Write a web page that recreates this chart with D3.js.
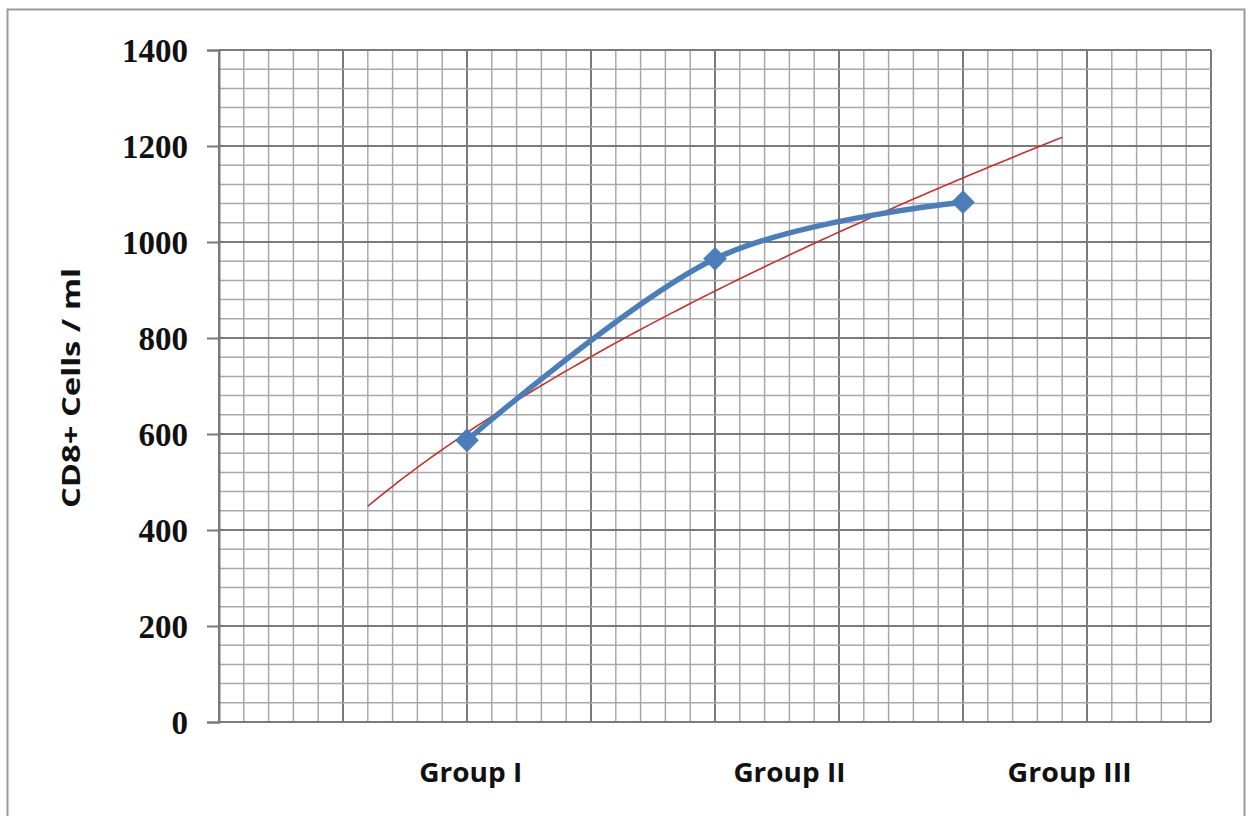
<!DOCTYPE html>
<html>
<head>
<meta charset="utf-8">
<script src="https://cdn.jsdelivr.net/npm/d3@7"></script>
<style>
  html, body { margin: 0; padding: 0; background: #fff; }
  svg { display: block; }
</style>
</head>
<body>
<svg id="chart" width="1251" height="816"></svg>
<script>
// ---- data ----
const categories = ["Group I", "Group II", "Group III"];
const groupX = [2, 4, 6];                 // x values of the points (scatter axis 0..8)
const cd8Values = [587, 965, 1083];       // CD8+ cells / ml
const categoryLabelAt = [2.03, 4.6, 6.86];// where the category captions sit (axis units)
const yTicks = [0, 200, 400, 600, 800, 1000, 1200, 1400];
const yTitle = "CD8+ Cells / ml";
const trendRange = [1.2, 6.8];            // power trendline, forecast 0.8 each side

// ---- layout ----
const svg = d3.select("#chart");
const L = 219, R = 1211, T = 50, B = 722;
const x = d3.scaleLinear().domain([0, 8]).range([L, R]);
const y = d3.scaleLinear().domain([0, 1400]).range([B, T]);

// outer frame
svg.append("rect").attr("x", 7.5).attr("y", 9.5).attr("width", 1237).attr("height", 830)
  .attr("fill", "none").attr("stroke", "#9a9a9a").attr("stroke-width", 2);

// grid
const g = svg.append("g");
const minorX = d3.range(0, 8.0001, 0.2);
const minorY = d3.range(0, 1400.001, 40);
g.selectAll(".vx").data(minorX).join("line")
  .attr("x1", d => x(d)).attr("x2", d => x(d)).attr("y1", T).attr("y2", B)
  .attr("stroke", d => Math.abs(d - Math.round(d)) < 1e-6 ? "#7a7a7a" : "#a8a8a8")
  .attr("stroke-width", d => Math.abs(d - Math.round(d)) < 1e-6 ? 2 : 1.5);
g.selectAll(".hy").data(minorY).join("line")
  .attr("x1", L).attr("x2", R).attr("y1", d => y(d)).attr("y2", d => y(d))
  .attr("stroke", d => d % 200 === 0 ? "#7a7a7a" : "#a8a8a8")
  .attr("stroke-width", d => d % 200 === 0 ? 2 : 1.5);

// y axis
const yAxis = d3.axisLeft(y).tickValues(yTicks).tickSize(12).tickPadding(19).tickFormat(d3.format("d"));
const ya = svg.append("g").attr("transform", `translate(${L},0)`).call(yAxis);
ya.select(".domain").attr("stroke", "#7a7a7a").attr("stroke-width", 2);
ya.selectAll(".tick line").attr("stroke", "#7a7a7a").attr("stroke-width", 2);
ya.selectAll(".tick text")
  .attr("font-family", "'Liberation Serif', 'Times New Roman', serif")
  .attr("font-weight", "bold").attr("font-size", 33).attr("fill", "#111")
  .attr("dy", "0.34em");

// bottom axis line
svg.append("line").attr("x1", L).attr("x2", R).attr("y1", B).attr("y2", B)
  .attr("stroke", "#7a7a7a").attr("stroke-width", 2);

// y title
svg.append("text")
  .attr("transform", `translate(80,388) rotate(-90)`)
  .attr("text-anchor", "middle")
  .attr("font-family", "'Open Sans', 'Liberation Sans', sans-serif")
  .attr("font-weight", "bold").attr("font-size", 25).attr("fill", "#111")
  .attr("textLength", 240).attr("lengthAdjust", "spacingAndGlyphs")
  .text(yTitle);

// category captions
const capW = [103, 112, 124];
svg.selectAll(".cat").data(categories).join("text")
  .attr("x", (d, i) => x(categoryLabelAt[i])).attr("y", 782)
  .attr("text-anchor", "middle")
  .attr("font-family", "'Open Sans', 'Liberation Sans', sans-serif")
  .attr("font-weight", "bold").attr("font-size", 27).attr("fill", "#111")
  .attr("textLength", (d, i) => capW[i]).attr("lengthAdjust", "spacingAndGlyphs")
  .text(d => d);

// power trendline y = a x^b (least squares on logs)
const lx = groupX.map(Math.log), ly = cd8Values.map(Math.log);
const mx = d3.mean(lx), my = d3.mean(ly);
const b = d3.sum(lx.map((v, i) => (v - mx) * (ly[i] - my))) / d3.sum(lx.map(v => (v - mx) ** 2));
const a = Math.exp(my - b * mx);
const trendPts = d3.range(trendRange[0], trendRange[1] + 1e-9, 0.05).map(t => [t, a * Math.pow(t, b)]);
svg.append("path").datum(trendPts)
  .attr("d", d3.line().x(d => x(d[0])).y(d => y(d[1])))
  .attr("fill", "none").attr("stroke", "#c8302c").attr("stroke-width", 1.6);

// smoothed series line
const pts = groupX.map((v, i) => [v, cd8Values[i]]);
svg.append("path").datum(pts)
  .attr("d", d3.line().x(d => x(d[0])).y(d => y(d[1])).curve(d3.curveCardinal.tension(0)))
  .attr("fill", "none").attr("stroke", "#4a7ebb").attr("stroke-width", 5.5)
  .attr("stroke-linecap", "round");

// diamond markers
svg.selectAll(".mk").data(pts).join("path")
  .attr("d", d3.symbol().type(d3.symbolSquare).size(250))
  .attr("transform", d => `translate(${x(d[0])},${y(d[1])}) rotate(45)`)
  .attr("fill", "#4a7ebb").attr("stroke", "#4a7ebb").attr("stroke-width", 1);
</script>
</body>
</html>
